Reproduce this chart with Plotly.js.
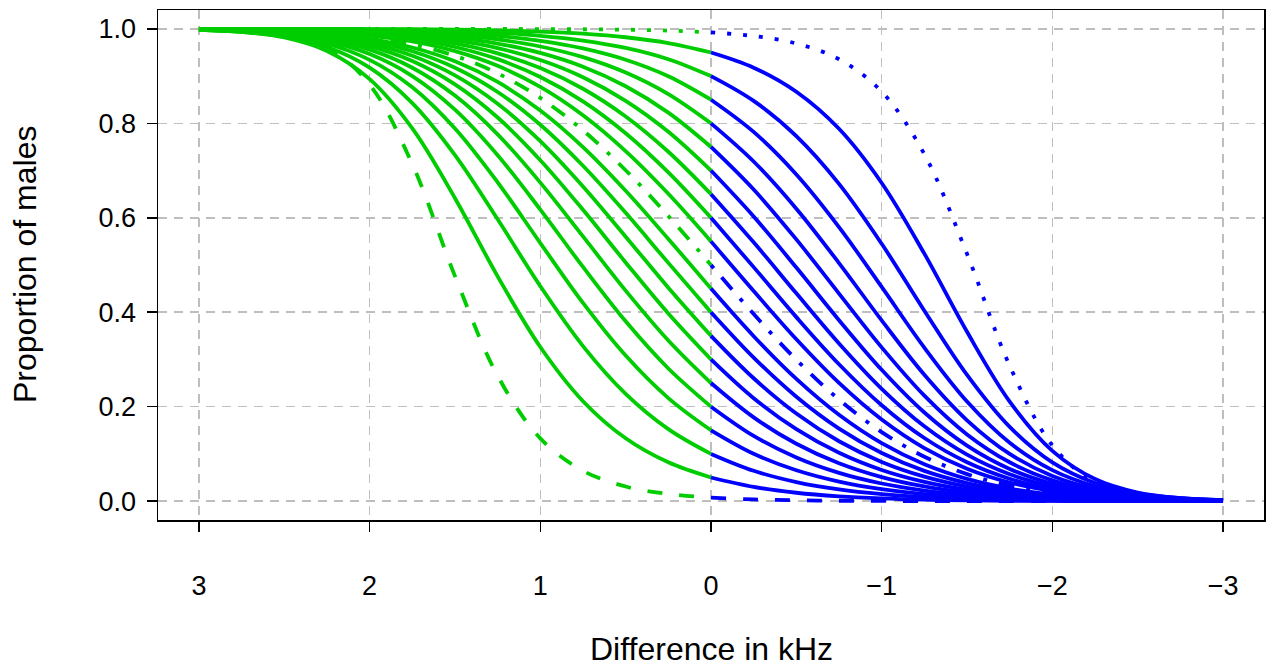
<!DOCTYPE html>
<html>
<head>
<meta charset="utf-8">
<script src="https://cdn.plot.ly/plotly-3.0.1.min.js"></script>
<style>
html, body { margin: 0; padding: 0; background: #ffffff; }
#chart { width: 1270px; height: 670px; }
</style>
</head>
<body>
<div id="chart"></div>
<script>
// x values (difference in kHz), shared by every curve
const diffKHz = [3, 2.75, 2.5, 2.25, 2, 1.75, 1.5, 1.25, 1, 0.75, 0.5, 0.25, 0,
                 -0.25, -0.5, -0.75, -1, -1.25, -1.5, -1.75, -2, -2.25, -2.5, -2.75, -3];

// proportion of males, one array per curve
const pDashed = [0.9995, 0.9976, 0.9895, 0.9616, 0.8820, 0.7134, 0.4765, 0.2653, 0.1329, 0.0642, 0.0310, 0.0151, 0.0074,
                 0.0036, 0.0017, 0.0008, 0.0004, 0.0002, 0.0001, 0, 0, 0, 0, 0, 0];
const p05 = [0.9981, 0.9937, 0.9818, 0.9532, 0.8935, 0.7892, 0.6415, 0.4760, 0.3263, 0.2116, 0.1331, 0.0821, 0.0500,
             0.0301, 0.0177, 0.0102, 0.0057, 0.0030, 0.0015, 0.0007, 0.0003, 0.0001, 0.0001, 0, 0];
const p10 = [0.9979, 0.9938, 0.9838, 0.9615, 0.9179, 0.8429, 0.7328, 0.5968, 0.4551, 0.3283, 0.2272, 0.1525, 0.1000,
             0.0642, 0.0403, 0.0246, 0.0146, 0.0083, 0.0045, 0.0023, 0.0011, 0.0005, 0.0002, 0.0001, 0];
const p15 = [0.9980, 0.9945, 0.9862, 0.9685, 0.9344, 0.8763, 0.7890, 0.6750, 0.5465, 0.4197, 0.3082, 0.2182, 0.1500,
             0.1003, 0.0653, 0.0413, 0.0252, 0.0148, 0.0083, 0.0044, 0.0022, 0.0010, 0.0004, 0.0002, 0.0001];
const p20 = [0.9982, 0.9952, 0.9884, 0.9739, 0.9466, 0.9001, 0.8289, 0.7325, 0.6174, 0.4959, 0.3807, 0.2808, 0.2000,
             0.1381, 0.0924, 0.0598, 0.0373, 0.0223, 0.0127, 0.0069, 0.0035, 0.0017, 0.0007, 0.0003, 0.0001];
const p25 = [0.9985, 0.9959, 0.9902, 0.9783, 0.9560, 0.9178, 0.8587, 0.7767, 0.6745, 0.5605, 0.4458, 0.3402, 0.2500,
             0.1773, 0.1214, 0.0801, 0.0509, 0.0310, 0.0179, 0.0099, 0.0051, 0.0025, 0.0011, 0.0005, 0.0002];
const p30 = [0.9987, 0.9965, 0.9917, 0.9819, 0.9634, 0.9319, 0.8825, 0.8124, 0.7220, 0.6168, 0.5054, 0.3973, 0.3000,
             0.2179, 0.1524, 0.1024, 0.0660, 0.0407, 0.0239, 0.0133, 0.0069, 0.0034, 0.0015, 0.0006, 0.0002];
const p35 = [0.9989, 0.9970, 0.9930, 0.9848, 0.9695, 0.9432, 0.9017, 0.8417, 0.7622, 0.6662, 0.5600, 0.4519, 0.3500,
             0.2602, 0.1855, 0.1268, 0.0829, 0.0517, 0.0306, 0.0172, 0.0090, 0.0045, 0.0020, 0.0009, 0.0003];
const p40 = [0.9990, 0.9975, 0.9941, 0.9873, 0.9746, 0.9526, 0.9177, 0.8664, 0.7969, 0.7101, 0.6104, 0.5045, 0.4000,
             0.3039, 0.2210, 0.1535, 0.1018, 0.0641, 0.0383, 0.0216, 0.0115, 0.0057, 0.0026, 0.0011, 0.0004];
const p45 = [0.9992, 0.9979, 0.9951, 0.9895, 0.9789, 0.9606, 0.9313, 0.8876, 0.8271, 0.7496, 0.6572, 0.5551, 0.4500,
             0.3492, 0.2588, 0.1828, 0.1227, 0.0782, 0.0471, 0.0267, 0.0142, 0.0071, 0.0033, 0.0014, 0.0005];
const pDashDot = [0.9993, 0.9983, 0.9960, 0.9913, 0.9826, 0.9674, 0.9429, 0.9059, 0.8538, 0.7850, 0.7007, 0.6038, 0.5000,
                  0.3962, 0.2993, 0.2150, 0.1462, 0.0941, 0.0571, 0.0326, 0.0174, 0.0087, 0.0040, 0.0017, 0.0007];
const p55 = [0.9995, 0.9986, 0.9967, 0.9929, 0.9858, 0.9733, 0.9529, 0.9218, 0.8773, 0.8172, 0.7412, 0.6508, 0.5500,
             0.4449, 0.3428, 0.2504, 0.1729, 0.1124, 0.0687, 0.0394, 0.0211, 0.0105, 0.0049, 0.0021, 0.0008];
const p60 = [0.9996, 0.9989, 0.9974, 0.9943, 0.9885, 0.9784, 0.9617, 0.9359, 0.8982, 0.8465, 0.7790, 0.6961, 0.6000,
             0.4955, 0.3896, 0.2899, 0.2031, 0.1336, 0.0823, 0.0474, 0.0254, 0.0127, 0.0059, 0.0025, 0.0010];
const p65 = [0.9997, 0.9991, 0.9980, 0.9955, 0.9910, 0.9828, 0.9694, 0.9483, 0.9171, 0.8732, 0.8145, 0.7398, 0.6500,
             0.5481, 0.4400, 0.3338, 0.2378, 0.1583, 0.0983, 0.0568, 0.0305, 0.0152, 0.0070, 0.0030, 0.0011];
const p70 = [0.9998, 0.9994, 0.9985, 0.9966, 0.9931, 0.9867, 0.9761, 0.9593, 0.9340, 0.8976, 0.8476, 0.7821, 0.7000,
             0.6027, 0.4946, 0.3832, 0.2780, 0.1876, 0.1175, 0.0681, 0.0366, 0.0181, 0.0083, 0.0035, 0.0013];
const p75 = [0.9998, 0.9995, 0.9989, 0.9975, 0.9949, 0.9901, 0.9821, 0.9690, 0.9491, 0.9199, 0.8786, 0.8227, 0.7500,
             0.6598, 0.5542, 0.4395, 0.3255, 0.2233, 0.1413, 0.0822, 0.0440, 0.0217, 0.0098, 0.0041, 0.0015];
const p80 = [0.9999, 0.9997, 0.9993, 0.9983, 0.9965, 0.9931, 0.9873, 0.9777, 0.9627, 0.9402, 0.9076, 0.8619, 0.8000,
             0.7192, 0.6193, 0.5041, 0.3826, 0.2675, 0.1711, 0.0999, 0.0534, 0.0261, 0.0116, 0.0048, 0.0018];
const p85 = [0.9999, 0.9998, 0.9996, 0.9990, 0.9978, 0.9956, 0.9917, 0.9852, 0.9748, 0.9587, 0.9347, 0.8997, 0.8500,
             0.7818, 0.6918, 0.5803, 0.4535, 0.3250, 0.2110, 0.1237, 0.0656, 0.0315, 0.0138, 0.0055, 0.0020];
const p90 = [1, 0.9999, 0.9998, 0.9995, 0.9989, 0.9977, 0.9955, 0.9917, 0.9854, 0.9754, 0.9597, 0.9358, 0.9000,
             0.8475, 0.7728, 0.6717, 0.5449, 0.4032, 0.2672, 0.1571, 0.0821, 0.0385, 0.0162, 0.0062, 0.0021];
const p95 = [1, 1, 0.9999, 0.9999, 0.9997, 0.9993, 0.9985, 0.9970, 0.9943, 0.9898, 0.9823, 0.9699, 0.9500,
             0.9179, 0.8669, 0.7884, 0.6737, 0.5240, 0.3585, 0.2108, 0.1065, 0.0468, 0.0182, 0.0063, 0.0019];
const pDotted = [1, 1, 1, 1, 1, 1, 0.9999, 0.9998, 0.9996, 0.9992, 0.9983, 0.9964, 0.9926,
                 0.9849, 0.9690, 0.9358, 0.8671, 0.7347, 0.5235, 0.2866, 0.1180, 0.0384, 0.0105, 0.0024, 0.0005];

const xTickVals = [3, 2, 1, 0, -1, -2, -3];
const yTickVals = [0, 0.2, 0.4, 0.6, 0.8, 1.0];
const yTickText = ['0.0', '0.2', '0.4', '0.6', '0.8', '1.0'];
const xTitle = 'Difference in kHz';
const yTitle = 'Proportion of males';

const GREEN = '#00CD00';
const BLUE = '#0000FF';
const LW = 3.8;

const solidCurves = [p05, p10, p15, p20, p25, p30, p35, p40, p45, p55, p60, p65, p70, p75, p80, p85, p90, p95];
const specialCurves = [
  { y: pDashed, dash: '15px,17px' },
  { y: pDotted, dash: '4px,12px' },
  { y: pDashDot, dash: '4px,12px,16px,12px' }
];

const traces = [];
function addCurve(yArr, dash) {
  const iZero = diffKHz.indexOf(0);
  traces.push({
    x: diffKHz.slice(0, iZero + 1), y: yArr.slice(0, iZero + 1),
    type: 'scatter', mode: 'lines', hoverinfo: 'skip', showlegend: false,
    line: { color: GREEN, width: LW, dash: dash, shape: 'spline', smoothing: 1 }
  });
  traces.push({
    x: diffKHz.slice(iZero), y: yArr.slice(iZero),
    type: 'scatter', mode: 'lines', hoverinfo: 'skip', showlegend: false,
    line: { color: BLUE, width: LW, dash: dash, shape: 'spline', smoothing: 1 }
  });
}
solidCurves.forEach(c => addCurve(c, 'solid'));
specialCurves.forEach(c => addCurve(c.y, c.dash));

const FONT = 'Liberation Sans, Arial, Helvetica, sans-serif';
const TICK_FS = 27;
const TITLE_FS = 32;

const layout = {
  width: 1270, height: 670,
  paper_bgcolor: '#ffffff', plot_bgcolor: '#ffffff',
  margin: { l: 158, r: 6, t: 10, b: 150, pad: 0 },
  showlegend: false,
  font: { family: FONT, size: TICK_FS, color: '#000000' },
  xaxis: {
    range: [3.24, -3.24],
    tickmode: 'array', tickvals: xTickVals,
    ticks: 'outside', ticklen: 10, tickwidth: 1.5, tickcolor: '#000000',
    ticklabelstandoff: 31,
    showline: true, mirror: true, linecolor: '#000000', linewidth: 1.5,
    showgrid: true, gridcolor: '#BEBEBE', gridwidth: 1.5, griddash: '9px,7px',
    zeroline: false,
    tickfont: { family: FONT, size: TICK_FS, color: '#000000' }
  },
  yaxis: {
    range: [-0.04, 1.04],
    tickmode: 'array', tickvals: yTickVals, ticktext: yTickText,
    ticks: 'outside', ticklen: 10, tickwidth: 1.5, tickcolor: '#000000',
    ticklabelstandoff: 5,
    showline: true, mirror: true, linecolor: '#000000', linewidth: 1.5,
    showgrid: true, gridcolor: '#BEBEBE', gridwidth: 1.5, griddash: '9px,7px',
    zeroline: false,
    tickfont: { family: FONT, size: TICK_FS, color: '#000000' }
  },
  annotations: [
    { text: xTitle, xref: 'paper', yref: 'paper', x: 0.5, y: (520 - 649) / 510,
      xanchor: 'center', yanchor: 'middle', showarrow: false,
      font: { family: FONT, size: TITLE_FS, color: '#000000' } },
    { text: yTitle, xref: 'paper', yref: 'paper', x: (25 - 158) / 1106, y: 0.5,
      xanchor: 'center', yanchor: 'middle', textangle: -90, showarrow: false,
      font: { family: FONT, size: TITLE_FS, color: '#000000' } }
  ]
};

Plotly.newPlot('chart', traces, layout, { displayModeBar: false, staticPlot: true });
</script>
</body>
</html>
